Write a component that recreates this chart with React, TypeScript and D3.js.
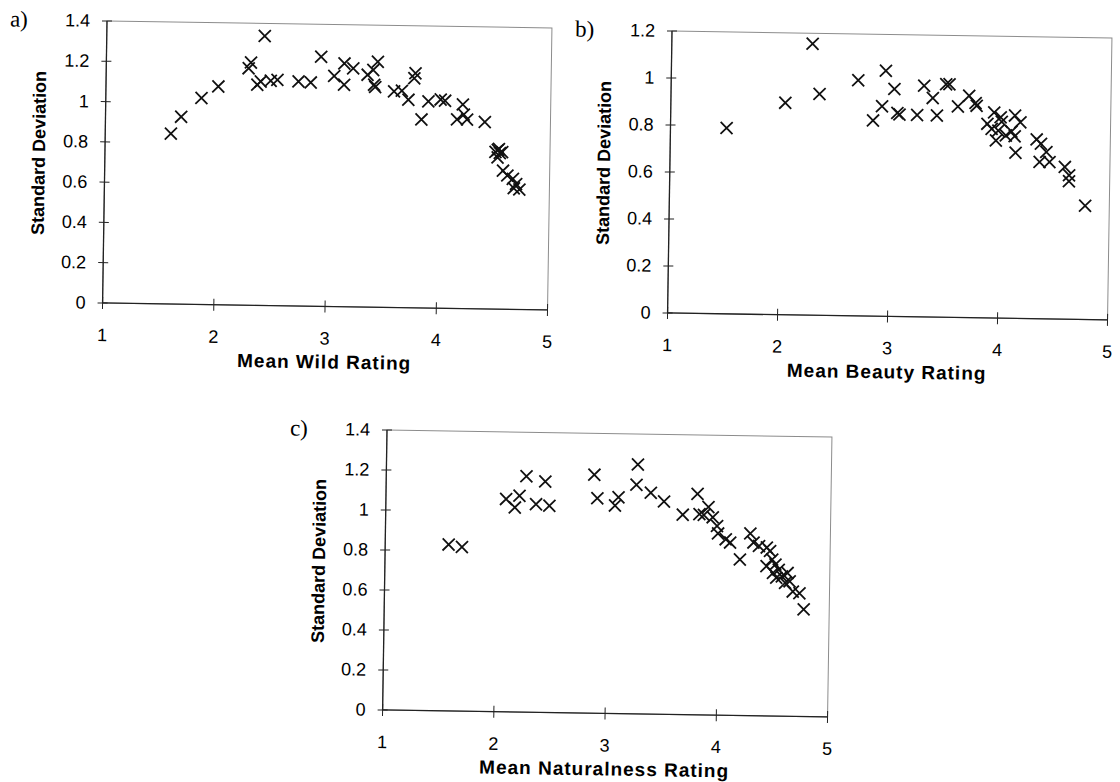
import React, { useEffect, useRef } from "react"
import * as d3 from "d3"

// a) wild
const wildMean = [1.59, 1.68, 1.86, 2.01, 2.30, 2.28, 2.42, 2.36, 2.39, 2.48, 2.54, 2.73, 2.84, 2.93, 3.05, 3.14, 3.14, 3.22, 3.35, 3.40, 3.44, 3.41, 3.42, 3.59, 3.66, 3.72, 3.78, 3.77, 3.84, 3.90, 4.01, 4.05, 4.21, 4.16, 4.25, 4.22, 4.41, 4.51, 4.53, 4.55, 4.57, 4.54, 4.53, 4.58, 4.62, 4.67, 4.70, 4.73, 4.68]
const wildSD = [0.846, 0.930, 1.025, 1.084, 1.205, 1.176, 1.338, 1.095, 1.112, 1.116, 1.121, 1.115, 1.111, 1.239, 1.145, 1.208, 1.102, 1.184, 1.153, 1.178, 1.219, 1.104, 1.093, 1.073, 1.077, 1.033, 1.165, 1.14, 0.936, 1.026, 1.036, 1.031, 1.013, 0.939, 0.939, 0.964, 0.928, 0.78, 0.79, 0.775, 0.78, 0.795, 0.753, 0.688, 0.664, 0.648, 0.623, 0.596, 0.602]

// b) beauty
const beautyMean = [1.51, 2.04, 2.28, 2.35, 2.70, 2.84, 2.92, 2.95, 3.03, 3.06, 3.08, 3.24, 3.30, 3.38, 3.42, 3.50, 3.53, 3.61, 3.71, 3.77, 3.78, 3.88, 3.92, 3.94, 3.96, 4.00, 4.01, 3.98, 4.05, 4.13, 4.18, 4.10, 4.13, 4.14, 4.33, 4.37, 4.36, 4.42, 4.45, 4.59, 4.63, 4.63, 4.78]
const beautySD = [0.791, 0.902, 1.155, 0.942, 1.003, 0.833, 0.894, 1.045, 0.968, 0.866, 0.86, 0.859, 0.984, 0.932, 0.858, 0.992, 0.992, 0.898, 0.944, 0.914, 0.902, 0.826, 0.805, 0.875, 0.756, 0.855, 0.836, 0.798, 0.778, 0.863, 0.835, 0.795, 0.775, 0.705, 0.763, 0.745, 0.667, 0.71, 0.668, 0.648, 0.613, 0.587, 0.484]

// c) naturalness
const natMean = [1.57, 1.69, 2.08, 2.16, 2.20, 2.26, 2.35, 2.43, 2.47, 2.87, 2.90, 3.06, 3.09, 3.26, 3.25, 3.38, 3.50, 3.67, 3.80, 3.82, 3.86, 3.90, 3.94, 3.98, 3.99, 4.06, 4.10, 4.19, 4.28, 4.31, 4.36, 4.43, 4.46, 4.48, 4.51, 4.54, 4.49, 4.57, 4.62, 4.64, 4.60, 4.67, 4.73, 4.77, 4.52, 4.43]
const natSD = [0.832, 0.821, 1.064, 1.023, 1.082, 1.180, 1.041, 1.155, 1.034, 1.193, 1.075, 1.04, 1.082, 1.247, 1.146, 1.107, 1.064, 1.0, 1.105, 1.004, 1.0, 1.04, 0.989, 0.946, 0.909, 0.88, 0.864, 0.78, 0.911, 0.866, 0.849, 0.842, 0.825, 0.783, 0.758, 0.732, 0.716, 0.699, 0.717, 0.675, 0.667, 0.624, 0.616, 0.536, 0.692, 0.749]

const xTicks = [1, 2, 3, 4, 5]
const yTicks14 = [0, 0.2, 0.4, 0.6, 0.8, 1, 1.2, 1.4]
const yTicks12 = [0, 0.2, 0.4, 0.6, 0.8, 1, 1.2]

const sans = "'Liberation Sans', Arial, sans-serif"
const serif = "'Liberation Serif', 'Times New Roman', serif"

const Panel = ({ tag, xs, ys, yTicks, xTitle, left, top, width, height }) => {
    const ref = useRef(null)

    useEffect(() => {
        const g = d3.select(ref.current)
        g.selectAll("*").remove()

        const x = d3.scaleLinear().domain([1, 5]).range([0, width])
        const y = d3.scaleLinear().domain([0, d3.max(yTicks)]).range([height, 0])
        const fmt = d3.format("~g")

        // frame (light, scanned look)
        g.append("rect")
            .attr("width", width)
            .attr("height", height)
            .attr("fill", "none")
            .attr("stroke", "#8c8c8c")
            .attr("stroke-width", 1)

        g.append("line").attr("x1", 0).attr("x2", 0).attr("y1", 0).attr("y2", height)
            .attr("stroke", "#222").attr("stroke-width", 1.3)
        g.append("line").attr("x1", 0).attr("x2", width).attr("y1", height).attr("y2", height)
            .attr("stroke", "#222").attr("stroke-width", 1.3)

        // y ticks cross the axis
        g.selectAll("line.yt").data(yTicks).join("line")
            .attr("class", "yt")
            .attr("x1", -5).attr("x2", 5)
            .attr("y1", d => y(d)).attr("y2", d => y(d))
            .attr("stroke", "#222")
        g.selectAll("text.yl").data(yTicks).join("text")
            .attr("class", "yl")
            .attr("x", -17)
            .attr("y", d => y(d) + 6)
            .attr("text-anchor", "end")
            .style("font-family", sans)
            .style("font-size", "18px")
            .text(d => fmt(d))

        g.selectAll("line.xt").data(xTicks).join("line")
            .attr("class", "xt")
            .attr("x1", d => x(d)).attr("x2", d => x(d))
            .attr("y1", height - 6).attr("y2", height + 6)
            .attr("stroke", "#222")
        g.selectAll("text.xl").data(xTicks).join("text")
            .attr("class", "xl")
            .attr("x", d => x(d))
            .attr("y", height + 38)
            .attr("text-anchor", "middle")
            .style("font-family", sans)
            .style("font-size", "18px")
            .text(d => d)

        g.append("text")
            .attr("x", width / 2)
            .attr("y", height + 62)
            .attr("text-anchor", "middle")
            .style("font-family", sans)
            .style("font-size", "19px")
            .style("font-weight", "bold")
            .style("letter-spacing", "1px")
            .text(xTitle)

        g.append("text")
            .attr("transform", `translate(${-60},${height / 2 - 8}) rotate(-90)`)
            .attr("text-anchor", "middle")
            .style("font-family", sans)
            .style("font-size", "18px")
            .style("font-weight", "bold")
            .text("Standard Deviation")

        g.append("text")
            .attr("x", -97)
            .attr("y", 7)
            .style("font-family", serif)
            .style("font-size", "23px")
            .text(tag)

        const mark = d3.symbol().type(d3.symbolX).size(96)
        g.selectAll("path.pt").data(d3.range(xs.length)).join("path")
            .attr("class", "pt")
            .attr("transform", i => `translate(${x(xs[i])},${y(ys[i])})`)
            .attr("d", mark)
            .attr("fill", "none")
            .attr("stroke", "#111")
            .attr("stroke-width", 1.8)
    }, [])

    // the scanned page is tilted slightly clockwise
    return <g ref={ref} transform={`translate(${left} ${top}) rotate(0.9)`} />
}

export default function App() {
    return (
        <svg width="1120" height="782" style={{ position: "absolute", left: 0, top: 0, background: "white" }}>
            <Panel tag="a)" xs={wildMean} ys={wildSD} yTicks={yTicks14} xTitle="Mean Wild Rating"
                left={107} top={21} width={445} height={282} />
            <Panel tag="b)" xs={beautyMean} ys={beautySD} yTicks={yTicks12} xTitle="Mean Beauty Rating"
                left={672} top={31} width={440} height={282} />
            <Panel tag="c)" xs={natMean} ys={natSD} yTicks={yTicks14} xTitle="Mean Naturalness Rating"
                left={387} top={430} width={445} height={280} />
        </svg>
    )
}
